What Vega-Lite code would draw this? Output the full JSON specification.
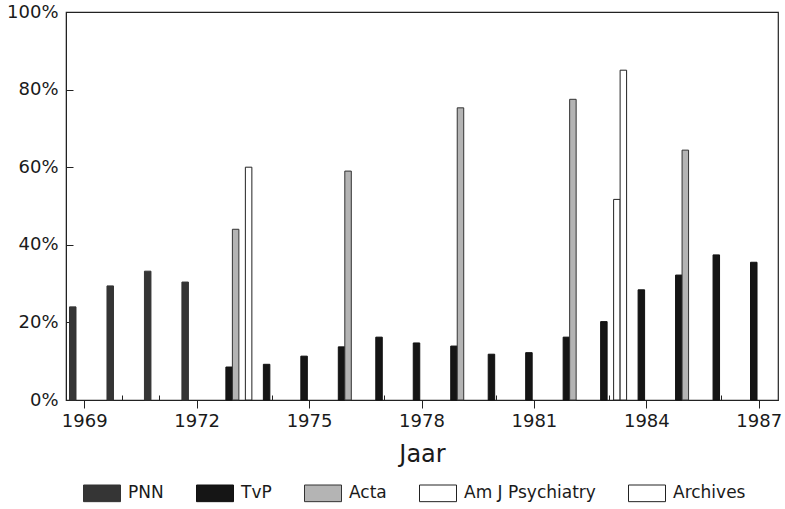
{
  "$schema": "https://vega.github.io/schema/vega-lite/v6.json",
  "width": 712,
  "height": 388,
  "autosize": {"type": "none"},
  "padding": {"left": 66, "top": 12, "right": 7, "bottom": 109},
  "background": "#ffffff",
  "config": {
    "font": "DejaVu Sans",
    "view": {"stroke": "#222222", "strokeWidth": 1.2}
  },
  "data": {
    "values": [
      {"year": "1969", "journal": "PNN", "value": 24.0},
      {"year": "1970", "journal": "PNN", "value": 29.4},
      {"year": "1971", "journal": "PNN", "value": 33.2},
      {"year": "1972", "journal": "PNN", "value": 30.4},
      {"year": "1973", "journal": "TvP", "value": 8.5},
      {"year": "1974", "journal": "TvP", "value": 9.2},
      {"year": "1975", "journal": "TvP", "value": 11.3},
      {"year": "1976", "journal": "TvP", "value": 13.7},
      {"year": "1977", "journal": "TvP", "value": 16.2},
      {"year": "1978", "journal": "TvP", "value": 14.7},
      {"year": "1979", "journal": "TvP", "value": 13.9},
      {"year": "1980", "journal": "TvP", "value": 11.8},
      {"year": "1981", "journal": "TvP", "value": 12.2},
      {"year": "1982", "journal": "TvP", "value": 16.2},
      {"year": "1983", "journal": "TvP", "value": 20.2},
      {"year": "1984", "journal": "TvP", "value": 28.4},
      {"year": "1985", "journal": "TvP", "value": 32.2},
      {"year": "1986", "journal": "TvP", "value": 37.4},
      {"year": "1987", "journal": "TvP", "value": 35.5},
      {"year": "1973", "journal": "Acta", "value": 44.0},
      {"year": "1976", "journal": "Acta", "value": 59.0},
      {"year": "1979", "journal": "Acta", "value": 75.3},
      {"year": "1982", "journal": "Acta", "value": 77.5},
      {"year": "1985", "journal": "Acta", "value": 64.4},
      {"year": "1983", "journal": "Am J Psychiatry", "value": 51.7},
      {"year": "1973", "journal": "Archives", "value": 60.0},
      {"year": "1983", "journal": "Archives", "value": 85.0}
    ]
  },
  "mark": {"type": "bar", "strokeWidth": 1},
  "encoding": {
    "x": {
      "field": "year",
      "type": "ordinal",
      "scale": {
        "domain": ["1969","1970","1971","1972","1973","1974","1975","1976","1977","1978","1979","1980","1981","1982","1983","1984","1985","1986","1987"],
        "paddingInner": 0,
        "paddingOuter": 0
      },
      "axis": {
        "title": "Jaar",
        "titleFont": "DejaVu Sans",
        "titleFontSize": 24,
        "titleFontWeight": "normal",
        "titleColor": "#1a1a1a",
        "titlePadding": 12,
        "labelExpr": "(+datum.value - 1969) % 3 == 0 ? datum.value : ''",
        "labelAngle": 0,
        "labelFontSize": 18,
        "labelColor": "#1a1a1a",
        "labelPadding": 4,
        "domainColor": "#222222",
        "tickColor": "#222222",
        "tickSize": {"condition": {"test": "(+datum.value - 1969) % 3 == 0", "value": 8}, "value": -5},
        "grid": false
      }
    },
    "xOffset": {
      "field": "journal",
      "type": "nominal",
      "scale": {
        "domain": ["PNN", "TvP", "Acta", "Am J Psychiatry", "Archives"],
        "paddingInner": 0,
        "paddingOuter": 0.385,
        "align": 0.7
      }
    },
    "y": {
      "field": "value",
      "type": "quantitative",
      "scale": {"domain": [0, 100], "nice": false},
      "axis": {
        "title": null,
        "values": [0, 20, 40, 60, 80, 100],
        "labelExpr": "datum.value + '%'",
        "labelFontSize": 18,
        "labelColor": "#1a1a1a",
        "labelPadding": 15,
        "tickSize": -7,
        "tickColor": "#222222",
        "domainColor": "#222222",
        "grid": false
      }
    },
    "fill": {
      "field": "journal",
      "type": "nominal",
      "scale": {
        "domain": ["PNN", "TvP", "Acta", "Am J Psychiatry", "Archives"],
        "range": ["#353535", "#151515", "#b4b4b4", "#ffffff", "#ffffff"]
      },
      "legend": {
        "orient": "none",
        "legendX": 17,
        "legendY": 462,
        "direction": "horizontal",
        "title": null,
        "symbolType": "M-1,-0.45H1V0.45H-1Z",
        "symbolSize": 1369,
        "symbolStrokeWidth": 1,
        "labelFont": "DejaVu Sans",
        "labelFontSize": 17,
        "labelColor": "#1a1a1a",
        "labelOffset": 7,
        "columnPadding": 30
      }
    },
    "stroke": {
      "field": "journal",
      "type": "nominal",
      "scale": {
        "domain": ["PNN", "TvP", "Acta", "Am J Psychiatry", "Archives"],
        "range": ["#333333", "#111111", "#333333", "#222222", "#222222"]
      }
    }
  }
}
